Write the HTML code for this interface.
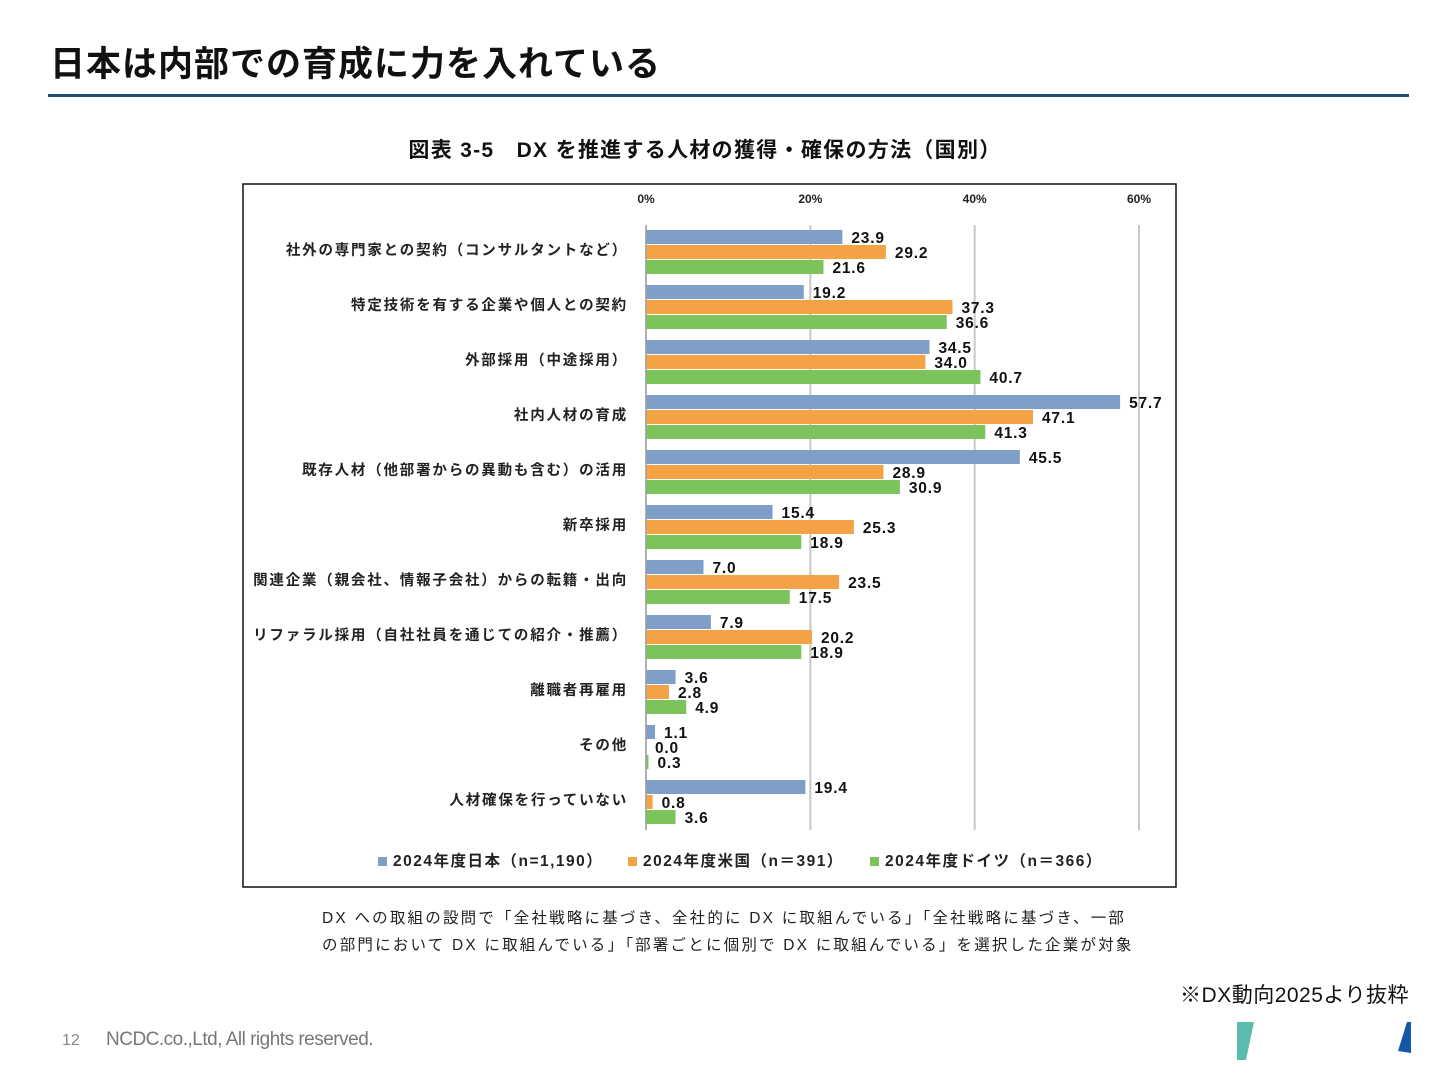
<!DOCTYPE html>
<html><head><meta charset="utf-8"><style>
body{margin:0;width:1440px;height:1080px;background:#fff;position:relative;font-family:"Liberation Sans","Noto Sans CJK JP",sans-serif;overflow:hidden}
.abs{position:absolute}
</style></head><body>
<div class="abs" style="left:50px;top:36px;font-size:35px;font-weight:bold;color:#111;letter-spacing:1px">日本は内部での育成に力を入れている</div>
<div class="abs" style="left:48px;top:94px;width:1361px;height:3px;background:#1f4d73"></div>
<div class="abs" style="left:0;width:1410px;top:134px;text-align:center;font-size:21px;font-weight:bold;color:#111;letter-spacing:1.3px">図表 3-5　DX を推進する人材の獲得・確保の方法（国別）</div>
<svg class="abs" style="left:0;top:0" width="1440" height="1080">
<rect x="243" y="184" width="933" height="703" fill="#fff" stroke="#111" stroke-width="1.5"/>
<g id="g"></g>
</svg>
<div class="abs" style="left:322px;top:905px;font-size:15.5px;line-height:27px;color:#222;letter-spacing:2.2px;white-space:nowrap">DX への取組の設問で「全社戦略に基づき、全社的に DX に取組んでいる」「全社戦略に基づき、一部<br>の部門において DX に取組んでいる」「部署ごとに個別で DX に取組んでいる」を選択した企業が対象</div>
<div class="abs" style="right:31px;top:979px;font-size:21px;color:#111;letter-spacing:0.5px">※DX動向2025より抜粋</div>
<div class="abs" style="left:62px;top:1032px;font-size:16px;color:#888">12</div>
<div class="abs" style="left:106px;top:1029px;font-size:19px;color:#777;letter-spacing:-0.5px">NCDC.co.,Ltd, All rights reserved.</div>
<svg class="abs" style="left:1230px;top:1015px" width="200" height="55">
<polygon points="7,7 24,7 16,45 7,45" fill="#5bbcae"/>
<polygon points="177,7 181,7 181,38 168,36" fill="#1456a8"/>
</svg>
<script>
const categories=["社外の専門家との契約（コンサルタントなど）","特定技術を有する企業や個人との契約","外部採用（中途採用）","社内人材の育成","既存人材（他部署からの異動も含む）の活用","新卒採用","関連企業（親会社、情報子会社）からの転籍・出向","リファラル採用（自社社員を通じての紹介・推薦）","離職者再雇用","その他","人材確保を行っていない"];
const japan=[23.9,19.2,34.5,57.7,45.5,15.4,7.0,7.9,3.6,1.1,19.4];
const usa=[29.2,37.3,34.0,47.1,28.9,25.3,23.5,20.2,2.8,0.0,0.8];
const germany=[21.6,36.6,40.7,41.3,30.9,18.9,17.5,18.9,4.9,0.3,3.6];
const ticks=[0,20,40,60];
const seriesNames=["2024年度日本（n=1,190）","2024年度米国（n＝391）","2024年度ドイツ（n＝366）"];
const colors=["#7f9fc9","#f4a246","#7dc35b"];
const NS="http://www.w3.org/2000/svg";
const g=document.getElementById('g');
const x=v=>646+v*(1139-646)/60;
const groupY=i=>230+i*55;
function mk(t,a,txt){const e=document.createElementNS(NS,t);for(const k in a)e.setAttribute(k,a[k]);if(txt!=null)e.textContent=txt;g.appendChild(e);return e;}
ticks.forEach(t=>{
 const l=mk('line',{x1:x(t),x2:x(t),y1:225,y2:830,stroke:'#c8c8c8','stroke-width':2});
 
 
 const tx=mk('text',{x:x(t),y:203,'text-anchor':'middle','font-size':12,'font-weight':'bold',fill:'#222'},t+'%');
 
 
});
const series=[japan,usa,germany];
categories.forEach((c,i)=>{
 const y0=groupY(i);
 const lab=mk('text',{x:628,y:y0+25,'text-anchor':'end','font-size':14.5,'font-weight':'bold',fill:'#222','letter-spacing':'1.8px'},c);
 
 
 series.forEach((s,j)=>{
  const by=y0+j*15;
  const r=mk('rect',{x:646,y:by,width:Math.max(x(s[i])-646,0.5),height:14,fill:colors[j]});
  
  
  const v=mk('text',{x:x(s[i])+9,y:by+13,'font-size':15.5,'font-weight':'bold',fill:'#111','letter-spacing':'0.8px'},s[i].toFixed(1));
  
  
 });
});
const lx=[378,628,870];
seriesNames.forEach((n,j)=>{
 const r=mk('rect',{x:lx[j],y:857,width:9,height:9,fill:colors[j]});
 
 
 const t=mk('text',{x:lx[j]+15,y:866,'font-size':15.5,'font-weight':'bold',fill:'#222','letter-spacing':'1.5px'},n);
 
 
});
const ln=mk('line',{x1:646,x2:646,y1:225,y2:830,stroke:'#999','stroke-width':1});


</script>
</body></html>
